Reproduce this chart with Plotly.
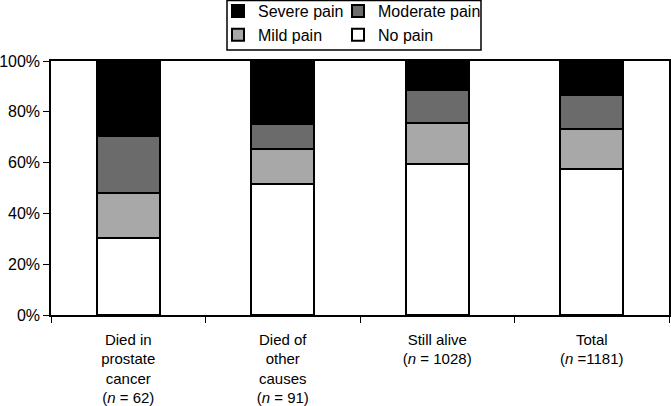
import plotly.graph_objects as go

categories = [
    "Died in<br>prostate<br>cancer<br>(<i>n</i> = 62)",
    "Died of<br>other<br>causes<br>(<i>n</i> = 91)",
    "Still alive<br>(<i>n</i> = 1028)",
    "Total<br>(<i>n</i> =1181)",
]
no_pain = [30.3, 51.5, 59.6, 57.6]
mild_pain = [17.8, 14.0, 16.0, 15.7]
moderate_pain = [22.3, 9.7, 13.1, 13.5]
severe_pain = [29.6, 24.8, 11.3, 13.2]

# (name, values, colour, which legend column)
series = [
    ("No pain", no_pain, "#ffffff", "legend2"),
    ("Mild pain", mild_pain, "#a8a8a8", "legend"),
    ("Moderate pain", moderate_pain, "#6b6b6b", "legend2"),
    ("Severe pain", severe_pain, "#000000", "legend"),
]

FONT = "Liberation Sans, Arial, Helvetica, sans-serif"
FS = 16

fig = go.Figure()
for name, vals, col, leg in series:
    fig.add_trace(go.Bar(
        x=categories, y=vals, name=name, legend=leg,
        marker=dict(color=col, line=dict(color="#000000", width=2)),
        width=0.41,
    ))

col_legend = dict(
    orientation="v", traceorder="reversed",
    yref="paper", y=(315 + 6) / 254, yanchor="top",
    xref="container", xanchor="left",
    borderwidth=0, bgcolor="rgba(0,0,0,0)",
    font=dict(family=FONT, size=FS),
)

fig.update_layout(
    width=671, height=406,
    barmode="stack",
    plot_bgcolor="white", paper_bgcolor="white",
    font=dict(family=FONT, size=FS, color="#000000"),
    margin=dict(l=51, r=2, t=61, b=91, autoexpand=False),
    showlegend=True,
    legend=dict(col_legend, x=218 / 671),
    legend2=dict(col_legend, x=338 / 671),
    # frame around both legend columns
    shapes=[dict(
        type="rect", xref="paper", yref="paper",
        x0=(227 - 51) / 618, x1=(481 - 51) / 618,
        y0=(315 - 50) / 254, y1=(315 - 0.5) / 254,
        line=dict(color="#000000", width=1.5),
    )],
)

fig.update_xaxes(
    showline=True, linecolor="#000000", linewidth=1.5, mirror=True,
    ticks="outside", tickson="boundaries", ticklen=6, tickcolor="#000000",
    ticklabelstandoff=10,
    tickfont=dict(family=FONT, size=15), automargin=False,
)
fig.update_yaxes(
    range=[0, 100], dtick=20, ticksuffix="%",
    showline=True, linecolor="#000000", linewidth=1.5, mirror=True,
    ticks="outside", ticklen=6, tickcolor="#000000",
    showgrid=False, zeroline=False, automargin=False,
    tickfont=dict(family=FONT, size=FS),
)

fig.write_html("out.html", config={"displayModeBar": False},
               post_script="document.body.style.margin='0';")
